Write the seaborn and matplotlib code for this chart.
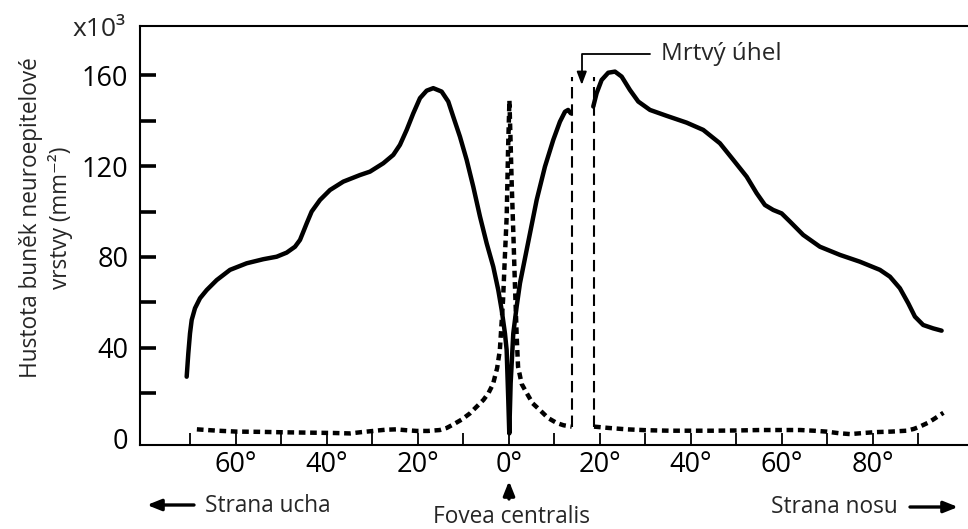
import matplotlib
matplotlib.use("Agg")
import matplotlib.pyplot as plt
import pandas as pd
import seaborn as sns

# Rod density (x10^3 per mm^2), temporal side up to the blind spot
rod_temporal_deg = [-70.84, -70.48, -70.11, -69.74, -69.01, -67.91, -66.44, -64.24, -61.32, -57.65,
                    -54.0, -51.06, -48.86, -47.03, -45.93, -45.2, -44.46, -43.37, -41.54, -39.34,
                    -36.41, -32.75, -30.55, -27.62, -25.42, -23.96, -22.48, -21.03, -19.56, -18.09,
                    -16.64, -14.8, -13.34, -12.24, -10.77, -9.3, -7.85, -6.37, -4.9, -3.45,
                    -2.35, -1.6, -0.88, -0.51, -0.15, 0.07, 0.37, 0.95, 1.69, 2.42,
                    3.89, 6.09, 7.91, 9.74, 11.2, 12.31, 13.0, 13.6]
rod_temporal_val = [27.2, 37.5, 46.3, 52.2, 57.4, 61.8, 65.4, 69.8, 74.3, 77.2,
                    79.0, 80.1, 81.9, 84.5, 87.5, 91.1, 94.8, 100.0, 105.1, 109.5,
                    113.2, 116.1, 117.6, 121.3, 125.0, 129.4, 136.0, 143.3, 150.0, 153.3,
                    154.4, 152.9, 148.5, 141.8, 133.0, 122.8, 111.0, 97.8, 86.0, 75.7,
                    65.4, 56.6, 46.3, 39.0, 16.9, 2.2, 24.3, 46.3, 58.1, 68.4,
                    83.1, 105.1, 119.8, 131.6, 139.6, 144.0, 144.8, 143.3]

# Rod density, nasal side beyond the blind spot
rod_nasal_deg = [18.53, 19.27, 20.37, 21.82, 23.3, 24.77, 26.59, 28.42, 31.0, 34.66,
                 39.05, 42.7, 46.37, 49.3, 52.24, 54.44, 56.26, 58.09, 59.93, 61.76,
                 64.68, 68.35, 72.75, 77.14, 81.54, 83.74, 85.93, 87.76, 89.23, 91.05,
                 93.25, 95.1]
rod_nasal_val = [146.3, 152.2, 158.0, 161.2, 161.7, 159.5, 153.6, 148.5, 144.8, 142.2,
                 139.2, 136.0, 130.1, 122.8, 115.4, 108.1, 102.9, 100.7, 99.2, 95.6,
                 89.7, 84.5, 80.9, 77.9, 74.3, 71.3, 66.2, 59.6, 53.7, 50.0,
                 48.5, 47.5]

# Cone density, temporal side through the fovea
cone_temporal_deg = [-68.6, -64.0, -59.8, -54.7, -49.6, -46.0, -42.3, -38.6, -34.9, -32.3,
                     -29.8, -27.3, -24.8, -22.5, -20.3, -17.8, -15.2, -13.7, -12.2, -10.4,
                     -8.6, -7.1, -5.6, -4.5, -3.5, -2.6, -2.0, -1.3, -0.9, -0.5,
                     -0.2, 0.1, 0.3, 0.6, 1.0, 1.3, 1.7, 2.0, 2.8, 3.9,
                     5.2, 6.8, 8.6, 10.5, 12.0, 13.8]
cone_temporal_val = [4.0, 3.4, 3.0, 2.9, 2.7, 2.6, 2.5, 2.4, 2.2, 2.8,
                     3.3, 3.8, 4.0, 3.6, 3.3, 3.3, 3.7, 4.6, 6.2, 8.3,
                     11.0, 14.0, 17.0, 20.0, 24.0, 31.0, 39.0, 61.0, 80.0, 97.8,
                     127.0, 149.0, 135.0, 112.6, 88.0, 68.5, 45.0, 31.6, 24.0, 20.0,
                     15.5, 12.5, 9.0, 6.8, 5.8, 5.2]

# Cone density, nasal side
cone_nasal_deg = [18.7, 22.0, 25.9, 30.5, 35.4, 40.0, 44.9, 50.0, 55.2, 60.0,
                  64.0, 67.0, 69.8, 72.5, 75.0, 78.0, 80.8, 84.0, 87.4, 89.0,
                  90.3, 92.0, 93.3, 95.5]
cone_nasal_val = [5.2, 4.6, 4.0, 3.6, 3.4, 3.4, 3.4, 3.5, 3.7, 3.7,
                  3.7, 3.4, 3.0, 2.3, 1.9, 2.4, 2.8, 3.0, 3.4, 4.2,
                  5.2, 6.8, 8.4, 11.3]

# Blind spot (optic disc) borders
blind_spot_deg = [13.8, 18.7]
blind_spot_low = 5.2
blind_spot_high = 159.5
blind_spot_pointer_deg = 16.0
blind_spot_pointer_tip = 155.8
blind_spot_label_level = 169.4

x_ticks = [-70, -60, -50, -40, -30, -20, -10, 0, 10, 20, 30, 40, 50, 60, 70, 80, 90]
x_labels = ["", "60°", "", "40°", "", "20°", "", "0°", "", "20°", "", "40°", "", "60°", "", "80°", ""]
y_ticks = [0, 20, 40, 60, 80, 100, 120, 140, 160]
y_labels = ["0", "", "40", "", "80", "", "120", "", "160"]

sns.set_theme(style="white")
plt.rcParams["font.family"] = ["Open Sans", "DejaVu Sans"]

W, H = 968, 529
fig = plt.figure(figsize=(W / 100, H / 100), dpi=100)
ax = fig.add_axes([140 / W, 84 / H, 828 / W, 419 / H])

rods_t = pd.DataFrame({"deg": rod_temporal_deg, "val": rod_temporal_val})
rods_n = pd.DataFrame({"deg": rod_nasal_deg, "val": rod_nasal_val})
cones_t = pd.DataFrame({"deg": cone_temporal_deg, "val": cone_temporal_val})
cones_n = pd.DataFrame({"deg": cone_nasal_deg, "val": cone_nasal_val})

rod_kw = dict(color="black", linewidth=3.2, solid_joinstyle="round", solid_capstyle="round")
cone_kw = dict(color="black", linewidth=3.2, linestyle=(0, (1.5, 1.05)), dash_capstyle="butt")

for d in (rods_t, rods_n):
    sns.lineplot(data=d, x="deg", y="val", ax=ax, estimator=None, sort=False, **rod_kw)
for d in (cones_t, cones_n):
    sns.lineplot(data=d, x="deg", y="val", ax=ax, estimator=None, sort=False, **cone_kw)

ax.vlines(blind_spot_deg, blind_spot_low, blind_spot_high, colors="black",
          linewidth=1.5, linestyles=(0, (5.5, 2.8)))

ax.annotate("Mrtvý úhel", xy=(blind_spot_pointer_deg, blind_spot_pointer_tip),
            xytext=(33.5, blind_spot_label_level), fontsize=17.5, va="center", ha="left",
            arrowprops=dict(arrowstyle="-|>,head_length=0.45,head_width=0.17",
                            connectionstyle="angle,angleA=0,angleB=90,rad=0",
                            relpos=(0, 0.5), shrinkA=6, shrinkB=0, lw=1.3, color="black"))

ax.set_xlim(-81.1, 100.9)
ax.set_ylim(-2.9, 181.8)
ax.set_xticks(x_ticks)
ax.set_xticklabels(x_labels)
ax.set_yticks(y_ticks)
ax.set_yticklabels(y_labels)
ax.set_xlabel("")
ax.set_ylabel("")

for s in ("left", "bottom", "top"):
    ax.spines[s].set_visible(True)
    ax.spines[s].set_color("black")
    ax.spines[s].set_linewidth(1.5)
ax.spines["right"].set_visible(False)

ax.tick_params(axis="y", direction="in", length=11.5, width=2.6, pad=8.5,
               labelsize=19.5, colors="black", left=True)
ax.tick_params(axis="x", direction="in", length=8.5, width=1.3, pad=4,
               labelsize=19.5, colors="black", bottom=True)
ax.yaxis.get_major_ticks()[0].tick1line.set_visible(False)

# axis captions
fig.text(46 / W, 1 - 218 / H, "Hustota buněk neuroepitelové\nvrstvy (mm⁻²)",
         rotation=90, ha="center", va="center", multialignment="center",
         fontsize=16.3, linespacing=1.3)
fig.text(99 / W, 1 - 30 / H, "x10³", ha="center", va="center", fontsize=19)

# direction markers under the axis
fig.text(205 / W, 1 - 506 / H, "Strana ucha", ha="left", va="center", fontsize=16.3)
fig.text(511 / W, 1 - 517 / H, "Fovea centralis", ha="center", va="center", fontsize=16.3)
fig.text(898 / W, 1 - 507 / H, "Strana nosu", ha="right", va="center", fontsize=16.3)

arrow = dict(arrowstyle="-|>,head_length=0.7,head_width=0.28", lw=2.4, color="black",
             shrinkA=0, shrinkB=0)
ax.annotate("", xy=(147, H - 505), xytext=(194, H - 505), xycoords="figure pixels",
            textcoords="figure pixels", arrowprops=arrow, annotation_clip=False)
ax.annotate("", xy=(509, H - 481), xytext=(509, H - 499), xycoords="figure pixels",
            textcoords="figure pixels", arrowprops=arrow, annotation_clip=False)
ax.annotate("", xy=(958, H - 507), xytext=(910, H - 507), xycoords="figure pixels",
            textcoords="figure pixels", arrowprops=arrow, annotation_clip=False)

fig.savefig("out.png", dpi=100, facecolor="white")
